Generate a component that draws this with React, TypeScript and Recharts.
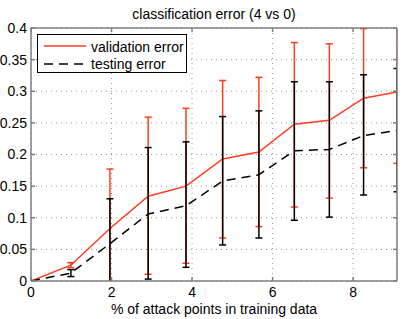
// Validation vs testing classification error with error bars (MATLAB-style look)

import {
  ComposedChart,
  Line,
  ErrorBar,
  XAxis,
  YAxis,
  CartesianGrid,
} from 'recharts'

// ── Data ────────────────────────────────────────────────────────────────────
const attackPct = [0, 0.99, 1.96, 2.91, 3.85, 4.76, 5.66, 6.54, 7.41, 8.26, 9.09]

const validationMean = [0, 0.025, 0.083, 0.134, 0.15, 0.193, 0.204, 0.248, 0.254, 0.289, 0.299]
const validationLow  = [0, 0.021, -0.011, 0.0106, 0.028, 0.068, 0.086, 0.117, 0.131, 0.179, 0.186]
const validationHigh = [0, 0.029, 0.177, 0.259, 0.273, 0.317, 0.322, 0.377, 0.375, 0.399, 0.412]

const testingMean = [0, 0.0125, 0.059, 0.106, 0.119, 0.158, 0.168, 0.206, 0.208, 0.23, 0.238]
const testingLow  = [0, 0.007, -0.012, 0.003, 0.0216, 0.057, 0.068, 0.096, 0.101, 0.136, 0.141]
const testingHigh = [0, 0.018, 0.13, 0.211, 0.22, 0.26, 0.269, 0.315, 0.315, 0.326, 0.336]

const xTicks = [0, 2, 4, 6, 8]
const yTicks = [0, 0.05, 0.1, 0.15, 0.2, 0.25, 0.3, 0.35, 0.4]

const RED = '#ff3b1f'
const AXIS = '#7f7f7f'
const FONT = 'Liberation Sans, Arial, sans-serif'

// the table Recharts wants: error bars as [below, above] offsets
const rows = attackPct.map((x, i) => ({
  x,
  validation: validationMean[i],
  validationErr: [validationMean[i] - validationLow[i], validationHigh[i] - validationMean[i]],
  testing: testingMean[i],
  testingErr: [testingMean[i] - testingLow[i], testingHigh[i] - testingMean[i]],
}))

// ── Legend box (plain overlay, so Recharts doesn't reserve room for it) ──────
function LegendBox() {
  return (
    <div style={{
      position: 'absolute', left: 37, top: 34,
      width: 148, height: 37, border: '1px solid #000', background: '#fff',
    }}>
      <svg width={148} height={37} style={{ position: 'absolute', left: 0, top: 0 }}>
        <line x1={6} x2={48} y1={11} y2={11} stroke={RED} strokeWidth={1.5} />
        <line x1={6} x2={48} y1={29} y2={29} stroke="#000" strokeWidth={1.5} strokeDasharray="9 6" />
        <text x={53} y={16.5} fontSize={14} fontFamily={FONT}>validation error</text>
        <text x={53} y={33.5} fontSize={14} fontFamily={FONT}>testing error</text>
      </svg>
    </div>
  )
}

const hiddenTick = () => <g />

export default function App() {
  return (
    <div style={{ position: 'absolute', left: 0, top: 0, width: 407, height: 319, background: '#fff' }}>
      {/* error bars that run past the axes get cut at the plot box, like MATLAB does */}
      <style>{`.recharts-errorBars, .recharts-errorBar { clip-path: url(#plotClip); }`}</style>
      <svg width={0} height={0} style={{ position: 'absolute' }}>
        <defs>
          <clipPath id="plotClip" clipPathUnits="userSpaceOnUse">
            <rect x={31} y={28} width={366} height={253} />
          </clipPath>
        </defs>
      </svg>

      {/* title */}
      <div style={{
        position: 'absolute', left: 31, width: 366, top: 6, textAlign: 'center',
        fontFamily: FONT, fontSize: 14, color: '#000', lineHeight: '16px',
      }}>
        classification error (4 vs 0)
      </div>

      <ComposedChart width={407} height={319} data={rows} margin={{ top: 0, right: 0, bottom: 0, left: 0 }}>
        <CartesianGrid stroke="#9a9a9a" strokeDasharray="1 4" />

        <XAxis
          dataKey="x" type="number" domain={[0, 9.09]} allowDataOverflow
          ticks={xTicks} height={38}
          tickSize={-4} tickMargin={10}
          stroke={AXIS} strokeWidth={1.5}
          tick={{ fontSize: 14, fill: '#000', fontFamily: FONT }}
          label={{ value: '% of attack points in training data', position: 'insideBottom', offset: 5, fontSize: 14, fill: '#000', fontFamily: FONT }}
        />
        <XAxis
          xAxisId="top" orientation="top" dataKey="x" type="number" domain={[0, 9.09]} allowDataOverflow
          ticks={xTicks} height={28} tickSize={-4} tick={hiddenTick}
          stroke={AXIS} strokeWidth={1.5}
        />
        <YAxis
          type="number" domain={[0, 0.4]} allowDataOverflow ticks={yTicks} width={31}
          tickSize={-4} tickMargin={8}
          stroke={AXIS} strokeWidth={1.5}
          tick={{ fontSize: 14, fill: '#000', fontFamily: FONT }}
        />
        <YAxis
          yAxisId="right" orientation="right" type="number" domain={[0, 0.4]} allowDataOverflow
          ticks={yTicks} width={10} tickSize={-4} tick={hiddenTick}
          stroke={AXIS} strokeWidth={1.5}
        />

        {/* validation first, testing drawn on top of it */}
        <Line
          dataKey="validation" type="linear" stroke={RED} strokeWidth={1.5}
          dot={false} activeDot={false} isAnimationActive={false} legendType="none"
        >
          <ErrorBar dataKey="validationErr" direction="y" width={3.5} stroke={RED} strokeWidth={1.5} isAnimationActive={false} />
        </Line>
        <Line
          dataKey="testing" type="linear" stroke="#000" strokeWidth={1.5} strokeDasharray="9 6"
          dot={false} activeDot={false} isAnimationActive={false} legendType="none"
        >
          <ErrorBar dataKey="testingErr" direction="y" width={3.5} stroke="#000" strokeWidth={1.5} isAnimationActive={false} />
        </Line>
      </ComposedChart>

      <LegendBox />
    </div>
  )
}
